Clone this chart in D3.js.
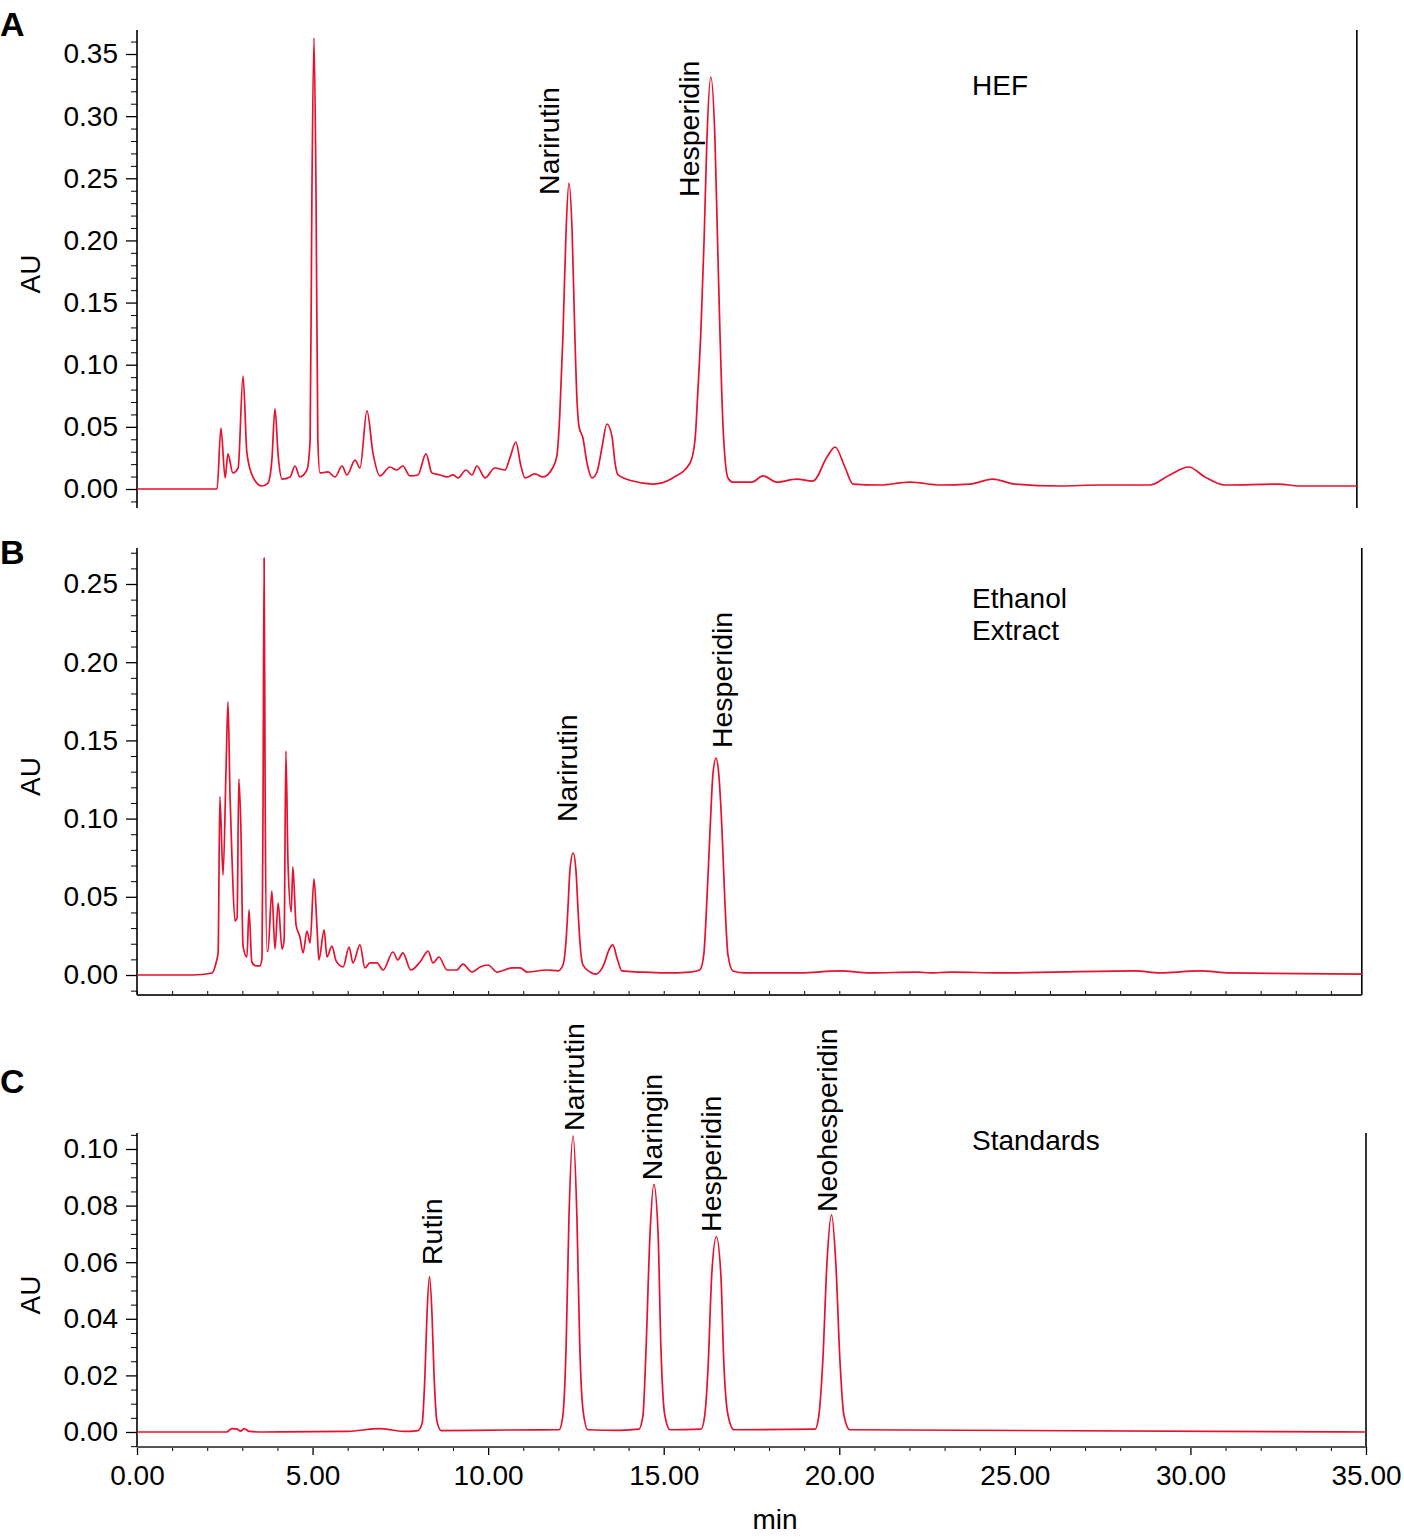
<!DOCTYPE html>
<meta charset="utf-8">
<style>
body { margin: 0; background: #fff; }
svg { display: block; font-family: "Liberation Sans", Arial, Helvetica, sans-serif; }
.trace { fill: none; stroke: #e8112d; stroke-width: 1.7; stroke-linejoin: round; }
.axis line, .axis path { stroke: #000; }
.axis text { font-size: 28px; fill: #000; }
</style>
<body>
<div id="chart"></div>
<script src="https://cdnjs.cloudflare.com/ajax/libs/d3/7.8.5/d3.min.js"></script>
<script>

// retention time (min), absorbance (AU)
var traceA = [
  [0,0],[2.28,0],[2.39,0.049],[2.51,0.0089],[2.59,0.0282],[2.73,0.0129],[2.88,0.0169],[3.02,0.0909],
  [3.13,0.029],[3.30,0.0097],[3.56,0.0024],[3.73,0.0048],[3.84,0.023],[3.93,0.0644],[4.02,0.027],
  [4.13,0.008],[4.36,0.0097],[4.50,0.0185],[4.64,0.0097],[4.84,0.0153],[4.93,0.039],[4.98,0.2325],
  [5.04,0.3629],[5.10,0.2325],[5.15,0.039],[5.21,0.0129],[5.44,0.0137],[5.64,0.0097],[5.84,0.0185],
  [5.98,0.0113],[6.21,0.0233],[6.35,0.0169],[6.55,0.0628],[6.72,0.029],[6.92,0.0105],[7.20,0.0177],
  [7.40,0.0153],[7.57,0.0185],[7.77,0.0105],[8.00,0.0113],[8.23,0.0282],[8.40,0.0129],[8.63,0.0113],
  [8.83,0.0097],[9.00,0.0113],[9.14,0.0089],[9.37,0.0153],[9.54,0.0113],[9.68,0.0185],[9.91,0.0089],
  [10.19,0.0169],[10.48,0.0153],[10.62,0.025],[10.79,0.0378],[10.93,0.019],[11.05,0.0089],[11.33,0.0121],
  [11.56,0.0097],[11.85,0.0177],[11.96,0.027],[12.04,0.0595],[12.13,0.1231],[12.22,0.2084],[12.30,0.2462],
  [12.39,0.2084],[12.47,0.1231],[12.53,0.0716],[12.59,0.0499],[12.70,0.041],[12.81,0.0217],[12.96,0.0089],
  [13.10,0.0137],[13.24,0.033],[13.38,0.0523],[13.53,0.0418],[13.61,0.0217],[13.70,0.0113],[14.12,0.0064],
  [14.69,0.004],[15.26,0.0089],[15.75,0.0209],[15.89,0.039],[15.97,0.0772],[16.06,0.128],[16.15,0.2004],
  [16.23,0.2808],[16.34,0.3315],[16.46,0.2808],[16.54,0.1923],[16.60,0.128],[16.69,0.0499],[16.83,0.0089],
  [16.97,0.0056],[17.51,0.0056],[17.83,0.0105],[18.22,0.0056],[18.79,0.008],[19.25,0.0064],[19.65,0.0257],
  [19.88,0.0338],[20.16,0.0177],[20.39,0.004],[21.16,0.0032],[22.01,0.0056],[22.87,0.0032],[23.72,0.004],
  [24.37,0.008],[25.00,0.004],[26.28,0.0024],[27.42,0.0032],[28.84,0.0032],[29.41,0.0113],[29.95,0.0177],
  [30.41,0.0097],[30.98,0.0032],[32.49,0.004],[33.12,0.0024],[34.74,0.0024]
];

var traceB = [
  [0,0],[1.60,0],[2.14,0.0013],[2.25,0.0077],[2.31,0.0141],[2.36,0.114],[2.45,0.0639],[2.54,0.1356],
  [2.59,0.1746],[2.65,0.1138],[2.71,0.0716],[2.79,0.0345],[2.85,0.0364],[2.90,0.1253],[2.96,0.0927],
  [3.02,0.0185],[3.13,0.0115],[3.19,0.0416],[3.27,0.0083],[3.39,0.0058],[3.50,0.0058],[3.56,0.0109],
  [3.59,0.112],[3.62,0.2666],[3.65,0.112],[3.70,0.0153],[3.73,0.0153],[3.84,0.0537],[3.93,0.0166],
  [4.02,0.046],[4.13,0.0166],[4.19,0.0224],[4.24,0.1432],[4.30,0.0716],[4.39,0.0403],[4.44,0.0691],
  [4.53,0.032],[4.64,0.0243],[4.73,0.0141],[4.84,0.0281],[4.93,0.0205],[5.04,0.0614],[5.13,0.0288],
  [5.18,0.0096],[5.33,0.0288],[5.41,0.0115],[5.55,0.0185],[5.67,0.009],[5.87,0.0051],[6.04,0.0179],
  [6.15,0.0077],[6.35,0.0192],[6.49,0.0045],[6.63,0.0077],[6.83,0.0077],[7.01,0.0032],[7.29,0.0147],
  [7.43,0.0096],[7.57,0.0141],[7.80,0.0032],[8.06,0.0083],[8.29,0.0153],[8.43,0.0077],[8.60,0.0115],
  [8.83,0.0032],[9.11,0.0032],[9.28,0.007],[9.54,0.0019],[9.77,0.0051],[10.00,0.0064],[10.25,0.0019],
  [10.68,0.0045],[10.91,0.0045],[11.11,0.0019],[11.67,0.0032],[11.99,0.0026],[12.13,0.0064],[12.22,0.0224],
  [12.27,0.0416],[12.33,0.0671],[12.42,0.078],[12.50,0.0671],[12.56,0.0416],[12.61,0.0224],[12.70,0.0064],
  [12.90,0.0019],[13.07,0.0006],[13.30,0.007],[13.44,0.016],[13.55,0.0192],[13.67,0.0109],[13.81,0.0026],
  [14.32,0.0019],[15.03,0.0013],[15.75,0.0019],[16.03,0.0032],[16.14,0.0128],[16.23,0.048],[16.32,0.0927],
  [16.40,0.1279],[16.49,0.1387],[16.57,0.1279],[16.66,0.0927],[16.74,0.048],[16.83,0.0128],[16.97,0.0026],
  [17.31,0.0013],[18.88,0.0013],[20.02,0.0026],[20.87,0.0013],[22.24,0.0019],[22.58,0.0013],[23.21,0.0019],
  [24.57,0.0013],[28.42,0.0026],[29.13,0.0013],[30.27,0.0026],[31.12,0.0013],[34.88,0.0006]
];

var traceC = [
  [0,0],[2.55,0],[2.70,0.0012],[2.85,0.001],[2.95,0.0003],[3.05,0.0012],[3.20,0.0002],[3.60,0],
  [6.00,0.0002],[6.90,0.0012],[7.60,0.0002],[8.00,0.0005],[8.12,0.003],[8.20,0.02],[8.26,0.042],
  [8.33,0.0549],[8.40,0.042],[8.46,0.02],[8.54,0.004],[8.66,0.0005],[10.53,0.0007],[12.02,0.0008],
  [12.13,0.006],[12.22,0.03],[12.30,0.075],[12.42,0.1046],[12.53,0.075],[12.61,0.03],[12.70,0.008],
  [12.84,0.0008],[13.76,0.0006],[14.29,0.001],[14.41,0.006],[14.49,0.027],[14.61,0.07],[14.72,0.0875],
  [14.84,0.07],[14.92,0.03],[15.03,0.006],[15.18,0.0008],[16.06,0.001],[16.17,0.006],[16.26,0.022],
  [16.37,0.056],[16.50,0.069],[16.63,0.055],[16.71,0.025],[16.83,0.006],[17.00,0.0008],[19.31,0.001],
  [19.42,0.006],[19.53,0.025],[19.65,0.06],[19.78,0.0767],[19.90,0.06],[20.02,0.025],[20.13,0.006],
  [20.30,0.0008],[35,0]
];

// tick labels
var yTicksA = [0, 0.05, 0.10, 0.15, 0.20, 0.25, 0.30, 0.35];
var yTicksB = [0, 0.05, 0.10, 0.15, 0.20, 0.25];
var yTicksC = [0, 0.02, 0.04, 0.06, 0.08, 0.10];
var xTicks = [0, 5, 10, 15, 20, 25, 30, 35];

// peak names (time, AU where the rotated label starts)
var peaksA = [["Narirutin", 12.02, 0.2366], ["Hesperidin", 16.0, 0.235]];
var peaksB = [["Narirutin", 12.53, 0.0978], ["Hesperidin", 16.94, 0.1451]];
var peaksC = [["Rutin", 8.68, 0.059], ["Narirutin", 12.73, 0.1064], ["Naringin", 14.95, 0.089],
              ["Hesperidin", 16.63, 0.0707], ["Neohesperidin", 19.93, 0.0777]];

var width = 1404, height = 1537;

var svg = d3.select("#chart").append("svg")
    .attr("width", width)
    .attr("height", height);

svg.append("rect").attr("width", width).attr("height", height).attr("fill", "#fff");

var x = d3.scaleLinear().domain([0, 35]).range([137, 1366]);

var panels = [
  {letter: "A", trace: traceA, ticks: yTicksA, minorStep: 0.01, peaks: peaksA,
   y0: 489, yTopPx: 54, top: 30, bottom: 508, right: 34.74, name: ["HEF"], nameY: 95, letterY: 36},
  {letter: "B", trace: traceB, ticks: yTicksB, minorStep: 0.01, peaks: peaksB,
   y0: 975, yTopPx: 584, top: 548, bottom: 995, right: 34.88, name: ["Ethanol", "Extract"], nameY: 608, letterY: 564},
  {letter: "C", trace: traceC, ticks: yTicksC, minorStep: 0.005, peaks: peaksC,
   y0: 1432, yTopPx: 1149, top: 1133, bottom: 1447, right: 35, name: ["Standards"], nameY: 1150, letterY: 1093}
];

panels.forEach(function(p) {
  var topTick = p.ticks[p.ticks.length - 1];
  var y = d3.scaleLinear().domain([0, topTick]).range([p.y0, p.yTopPx]);
  var g = svg.append("g");

  // minor ticks across the full axis length
  var lo = y.invert(p.bottom), hi = y.invert(p.top);
  var minor = d3.range(Math.ceil(lo / p.minorStep), Math.floor(hi / p.minorStep) + 1)
      .map(function(i) { return +(i * p.minorStep).toFixed(4); })
      .filter(function(v) { return p.ticks.indexOf(v) < 0; });

  g.append("g").attr("class", "axis")
      .attr("transform", "translate(137,0)")
      .call(d3.axisLeft(y).tickValues(minor).tickSize(6).tickFormat(""))
      .call(function(s) { s.select(".domain").remove(); });

  g.append("g").attr("class", "axis")
      .attr("transform", "translate(137,0)")
      .call(d3.axisLeft(y).tickValues(p.ticks).tickSize(11).tickPadding(8).tickFormat(d3.format(".2f")))
      .call(function(s) {
        s.select(".domain").remove();
        s.selectAll("line").attr("stroke-width", 1.3);
        s.selectAll("text").attr("font-family", "Liberation Sans, Arial, sans-serif");
      });

  // y axis line and right border
  g.append("line").attr("x1", 137).attr("x2", 137).attr("y1", p.top).attr("y2", p.bottom)
      .attr("stroke", "#000").attr("stroke-width", 1.6);
  g.append("line").attr("x1", x(p.right)).attr("x2", x(p.right)).attr("y1", p.top).attr("y2", p.bottom)
      .attr("stroke", "#000").attr("stroke-width", 1.6);

  // trace
  var line = d3.line()
      .x(function(d) { return x(d[0]); })
      .y(function(d) { return y(d[1]); })
      .curve(d3.curveMonotoneX);
  g.append("path").datum(p.trace).attr("class", "trace").attr("d", line);

  // AU label
  g.append("text")
      .attr("transform", "translate(40," + ((p.top + p.bottom) / 2 + 5) + ") rotate(-90)")
      .attr("text-anchor", "middle")
      .attr("font-size", 28)
      .text("AU");

  // panel letter
  g.append("text").attr("x", 0).attr("y", p.letterY)
      .attr("font-size", 34).attr("font-weight", "bold")
      .text(p.letter);

  // sample name
  g.selectAll(".sname").data(p.name).enter().append("text")
      .attr("x", 972)
      .attr("y", function(d, i) { return p.nameY + i * 32; })
      .attr("font-size", 28)
      .text(function(d) { return d; });

  // peak labels
  g.selectAll(".plabel").data(p.peaks).enter().append("text")
      .attr("transform", function(d) { return "translate(" + x(d[1]) + "," + y(d[2]) + ") rotate(-90)"; })
      .attr("font-size", 28.5)
      .text(function(d) { return d[0]; });
});

// bottom axis of panel B (unlabelled, inner ticks)
svg.append("g").attr("class", "axis")
    .attr("transform", "translate(0,995)")
    .call(d3.axisBottom(x).tickValues(d3.range(0, 35)).tickSize(-4).tickFormat(""))
    .call(function(s) { s.select(".domain").remove(); s.selectAll("line").attr("stroke", "#333"); });
svg.append("line").attr("x1", 137).attr("x2", x(34.88)).attr("y1", 995).attr("y2", 995)
    .attr("stroke", "#333").attr("stroke-width", 2.2);

// time axis of panel C
svg.append("g").attr("class", "axis")
    .attr("transform", "translate(0,1447)")
    .call(d3.axisBottom(x).tickValues(d3.range(0, 36).filter(function(v) { return v % 5; })).tickSize(4).tickFormat(""))
    .call(function(s) { s.select(".domain").remove(); s.selectAll("line").attr("stroke", "#333"); });
svg.append("g").attr("class", "axis")
    .attr("transform", "translate(0,1447)")
    .call(d3.axisBottom(x).tickValues(xTicks).tickSize(8).tickPadding(10).tickFormat(d3.format(".2f")))
    .call(function(s) {
      s.select(".domain").remove();
      s.selectAll("line").attr("stroke", "#333").attr("stroke-width", 1.3);
      s.selectAll("text").attr("font-family", "Liberation Sans, Arial, sans-serif");
    });
svg.append("line").attr("x1", 137).attr("x2", 1366).attr("y1", 1447).attr("y2", 1447)
    .attr("stroke", "#555").attr("stroke-width", 2);

svg.append("text").attr("x", 775).attr("y", 1529)
    .attr("text-anchor", "middle").attr("font-size", 28)
    .text("min");

</script>
